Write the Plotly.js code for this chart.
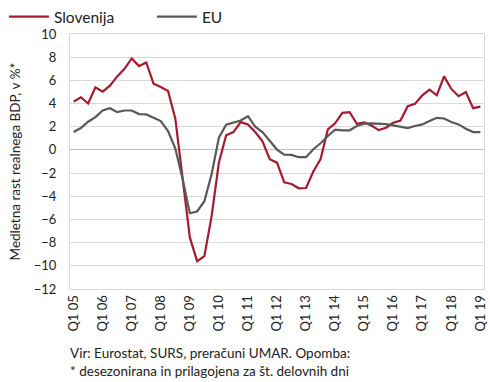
<!DOCTYPE html>
<html>
<head>
<meta charset="utf-8">
<script src="https://cdn.plot.ly/plotly-3.0.1.min.js"></script>
<style>
html,body{margin:0;padding:0;background:#fff;}
#chart{width:490px;height:382px;}
</style>
</head>
<body>
<div id="chart"></div>
<script>
// Quarter categories Q1 05 .. Q1 19
var years = ["05","06","07","08","09","10","11","12","13","14","15","16","17","18","19"];
var categories = [];
years.forEach(function(y, k){
  var nq = (k === years.length - 1) ? 1 : 4;
  for (var q = 1; q <= nq; q++) categories.push("Q" + q + " " + y);
});
var tickLabels = categories.filter(function(c){ return c.indexOf("Q1 ") === 0; });

var slovenija = [4.17, 4.54, 4.0, 5.4, 5.03, 5.54, 6.34, 7.0, 7.89, 7.23, 7.54, 5.71, 5.43, 5.08,
  2.7, -2.3, -7.55, -9.6, -9.17, -5.71, -1.09, 1.26, 1.54, 2.4, 2.2, 1.54, 0.74, -0.8, -1.1,
  -2.8, -2.94, -3.31, -3.29, -1.86, -0.8, 1.77, 2.29, 3.2, 3.26, 2.26, 2.37, 2.11, 1.71,
  1.91, 2.34, 2.54, 3.77, 3.97, 4.71, 5.2, 4.71, 6.34, 5.26, 4.63, 5.0, 3.6, 3.74];
var eu = [1.54, 1.89, 2.43, 2.83, 3.4, 3.6, 3.26, 3.4, 3.4, 3.09, 3.06, 2.77, 2.49, 1.63,
  0.12, -2.5, -5.46, -5.31, -4.43, -2.09, 1.06, 2.17, 2.34, 2.54, 2.91, 2.0, 1.54, 0.77, 0.03,
  -0.4, -0.43, -0.63, -0.63, 0.06, 0.57, 1.2, 1.74, 1.69, 1.69, 2.06, 2.26, 2.29, 2.29,
  2.23, 2.11, 2.03, 1.89, 2.06, 2.2, 2.49, 2.77, 2.71, 2.4, 2.2, 1.83, 1.54, 1.54];
var yTicks = [-12, -10, -8, -6, -4, -2, 0, 2, 4, 6, 8, 10];

var FONT = "Lato, 'Noto Sans', sans-serif";

var traces = [
  {x: categories, y: slovenija, name: "Slovenija", type: "scatter", mode: "lines",
   line: {color: "#a6192e", width: 2.2}},
  {x: categories, y: eu, name: "EU", type: "scatter", mode: "lines",
   line: {color: "#595959", width: 2.2}}
];

var layout = {
  width: 490, height: 382,
  margin: {l: 70, r: 6, t: 32, b: 93, pad: 0},
  paper_bgcolor: "#fff", plot_bgcolor: "#fff",
  font: {family: FONT, size: 13, color: "#222"},
  showlegend: true,
  legend: {orientation: "h", xref: "container", yref: "container",
           x: 0.008, y: 1.0, xanchor: "left", yanchor: "top",
           font: {family: FONT, size: 15.5, color: "#222"}, itemwidth: 40,
           entrywidth: 93, entrywidthmode: "pixels",
           tracegroupgap: 0, bgcolor: "rgba(0,0,0,0)"},
  xaxis: {type: "category", range: [-0.5, categories.length - 0.5],
          tickmode: "array", tickvals: tickLabels, ticktext: tickLabels,
          tickangle: -90, ticks: "", showgrid: false, zeroline: false,
          showline: true, linecolor: "#d9d9d9", linewidth: 1, mirror: true,
          tickfont: {family: FONT, size: 13, color: "#222"}, automargin: false},
  yaxis: {range: [-12, 10], tickmode: "array", tickvals: yTicks,
          showgrid: true, gridcolor: "#d9d9d9", gridwidth: 1,
          zeroline: true, zerolinecolor: "#bfbfbf", zerolinewidth: 1,
          showline: true, linecolor: "#d9d9d9", linewidth: 1, mirror: true,
          ticks: "", ticklabelstandoff: 10,
          tickfont: {family: FONT, size: 13, color: "#222"}, automargin: false},
  annotations: [
    {text: "Medletna rast realnega BDP, v %*", xref: "paper", yref: "paper",
     x: -0.133, y: 0.5, xanchor: "center", yanchor: "middle", textangle: -90,
     showarrow: false, font: {family: FONT, size: 13.5, color: "#222"}},
    {text: "Vir: Eurostat, SURS, preračuni UMAR. Opomba:<br>* desezonirana in prilagojena za št. delovnih dni",
     xref: "paper", yref: "paper", x: -0.005, y: -0.21, xanchor: "left", yanchor: "top",
     align: "left", showarrow: false, font: {family: FONT, size: 13.5, color: "#222"}}
  ]
};

Plotly.newPlot("chart", traces, layout, {displayModeBar: false, staticPlot: true});
</script>
</body>
</html>
